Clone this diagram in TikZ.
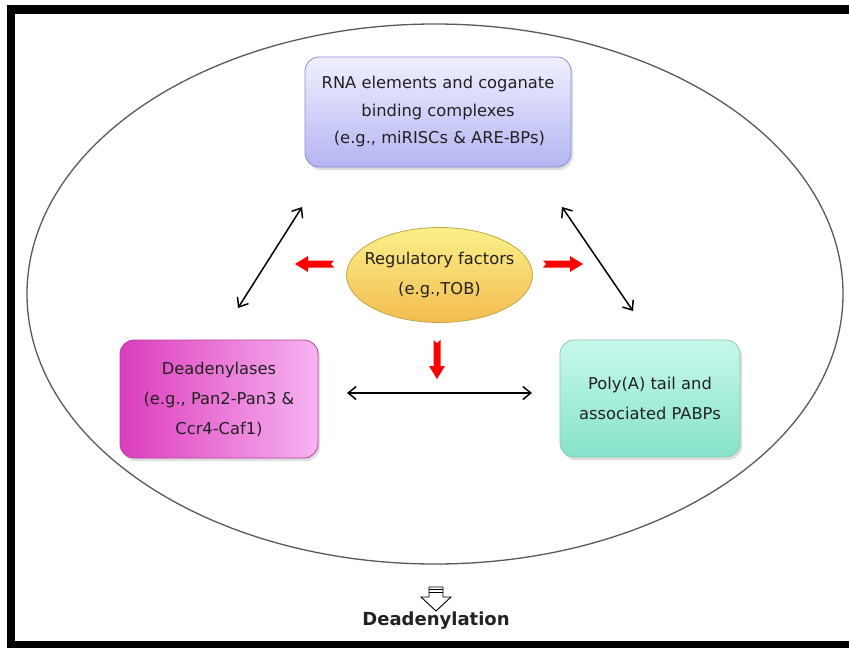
\documentclass[tikz,border=0pt]{standalone}
\usepackage{fontspec}
\setmainfont{DejaVu Sans}
\usetikzlibrary{arrows.meta,shadows,shapes.geometric}
\definecolor{topA}{HTML}{F0F0FF}
\definecolor{topB}{HTML}{B4B4F2}
\definecolor{topD}{HTML}{8C8CD8}
\definecolor{magA}{HTML}{F8B4F2}
\definecolor{magB}{HTML}{DC3CBC}
\definecolor{magD}{HTML}{B8409C}
\definecolor{minA}{HTML}{C8F8EC}
\definecolor{minB}{HTML}{86E2CA}
\definecolor{minD}{HTML}{8CCCB8}
\definecolor{yelA}{HTML}{FCF08A}
\definecolor{yelB}{HTML}{F2BC50}
\definecolor{yelD}{HTML}{C0A848}
\definecolor{txt}{HTML}{222222}
\tikzset{
  x=1pt,y=-1pt,
  lbl/.style={align=center, text=txt, font=\fontsize{16.3}{30}\selectfont, inner sep=0pt},
  box/.style={lbl, rounded corners=14pt,
    drop shadow={shadow xshift=2pt, shadow yshift=-3pt, fill=black!25, opacity=.5}},
  dbl/.style={{Straight Barb[length=8pt,width=13pt]}-{Straight Barb[length=8pt,width=13pt]}, line width=1.5pt, black},
  redarrow/.style={fill=red, draw=none},
}
\begin{document}
\begin{tikzpicture}
\useasboundingbox (0,0) rectangle (849,648);
\fill[white] (0,0) rectangle (849,648);
% frame
\fill[black] (7,5) rectangle (849,14);
\fill[black] (7,5) rectangle (15,648);
\fill[black] (7,641) rectangle (849,648);
% big ellipse
\draw[line width=1.3pt, black!65] (435,294) ellipse [x radius=408, y radius=270];
% top box
\node[box, draw=topD, line width=0.8pt, top color=topA, bottom color=topB,
  minimum width=266pt, minimum height=110pt, font=\fontsize{16.3}{27.5}\selectfont] (rna) at (438,112)
  {RNA elements and coganate\\binding complexes\\\,(e.g., miRISCs \& ARE-BPs)};
% left box
\node[box, draw=magD, line width=0.8pt, left color=magB, right color=magA,
  minimum width=198pt, minimum height=118pt] (dea) at (219,399)
  {Deadenylases\\(e.g., Pan2-Pan3 \&\\Ccr4-Caf1)};
% right box
\node[box, draw=minD, line width=0.8pt, top color=minA, bottom color=minB,
  minimum width=180pt, minimum height=117pt] (pol) at (650,398.5)
  {Poly(A) tail and\\associated PABPs};
% regulatory ellipse
\node[draw=yelD, line width=0.8pt, ellipse, top color=yelA, bottom color=yelB,
  minimum width=186pt, minimum height=95pt, inner sep=0pt] (reg) at (439.5,275) {};
\node[lbl] (regt) at (reg.center) {Regulatory factors\\(e.g.,TOB)};
% black double arrows
\coordinate (a1) at (238,308); \coordinate (a2) at (302,207);
\coordinate (b1) at (562,207); \coordinate (b2) at (633,311);
\coordinate (c1) at (347,393); \coordinate (c2) at (532,393);
\draw[dbl] (a1) -- (a2);
\draw[dbl] (b1) -- (b2);
\draw[dbl] (c1) -- (c2);
% red arrows
\fill[redarrow] (295,264) -- (308,256) -- (308,260.5) -- (334,260.5) -- (331,264) -- (334,267.5) -- (308,267.5) -- (308,272) -- cycle;
\fill[redarrow] (583,264) -- (570,256) -- (570,260.5) -- (543,260.5) -- (546,264) -- (543,267.5) -- (570,267.5) -- (570,272) -- cycle;
\fill[redarrow] (437,379) -- (429,366) -- (433.5,366) -- (433.5,340) -- (437,343) -- (440.5,340) -- (440.5,366) -- (445,366) -- cycle;
% hollow output arrow
\draw[line width=0.9pt, fill=white] (429,587) -- (443,587) -- (443,597) -- (451,597) -- (436,611) -- (421,597) -- (429,597) -- cycle;
\draw[line width=0.9pt] (429,589.5) -- (443,589.5);
\draw[line width=0.9pt] (429,592) -- (443,592);
\node[font=\fontsize{18}{20}\selectfont\bfseries, text=txt, inner sep=0pt] (out) at (436,621) {Deadenylation};
\end{tikzpicture}
\end{document}
